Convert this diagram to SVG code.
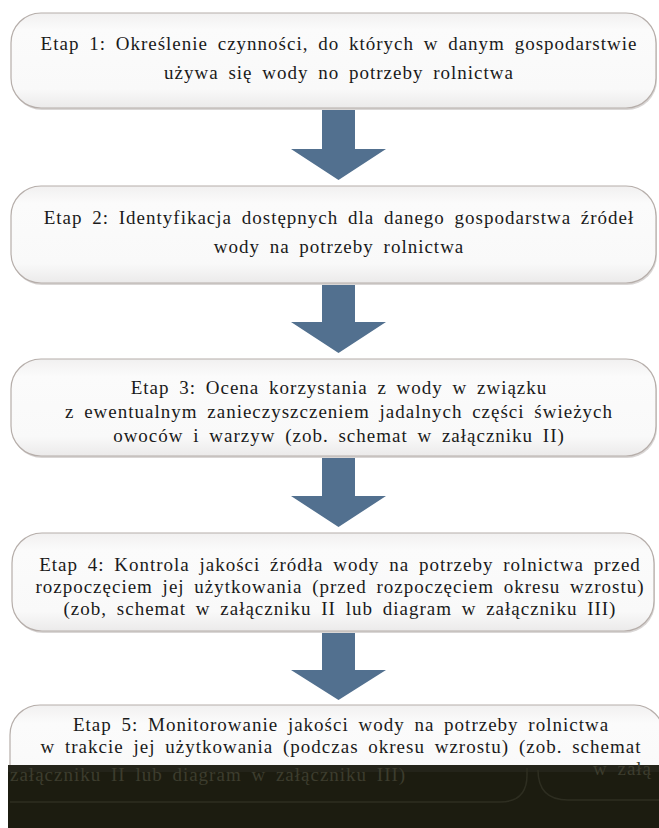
<svg xmlns="http://www.w3.org/2000/svg" width="659" height="828" viewBox="0 0 659 828">
<defs>
<linearGradient id="boxfill" x1="0" y1="0" x2="0" y2="1">
<stop offset="0" stop-color="#f1f0f0"/>
<stop offset="0.18" stop-color="#fbfbfb"/>
<stop offset="0.8" stop-color="#f9f9f9"/>
<stop offset="1" stop-color="#ebeaea"/>
</linearGradient>
</defs>
<style>
.box{fill:url(#boxfill);stroke:#b6aeaa;stroke-width:1.2}
.shadow{fill:#d9d6d5}
.arrow{fill:#52708f}
.t{font-family:"Liberation Serif","Times New Roman",serif;font-size:19px;fill:#1a1a1a;text-anchor:middle;letter-spacing:1px;word-spacing:4px}
.ghost{font-family:"Liberation Serif","Times New Roman",serif;font-size:19px;fill:#3d3d2e;letter-spacing:1px;word-spacing:4px}
.gline{fill:none;stroke:#2e2e21;stroke-width:1.5}
</style>
<rect width="659" height="828" fill="#ffffff"/>
<g id="connectors">
<path class="arrow" d="M322,108 H355 V149 H386 L338.5,180 L291,149 H322 Z"/>
<path class="arrow" d="M322,283 H355 V322 H386 L338.5,353 L291,322 H322 Z"/>
<path class="arrow" d="M322,456 H355 V496 H386 L338.5,527 L291,496 H322 Z"/>
<path class="arrow" d="M322,631 H355 V670 H386 L338.5,700 L291,670 H322 Z"/>
</g>
<g id="etap1">
<rect class="shadow" x="12" y="15" width="645" height="95" rx="30"/>
<rect class="box" x="11" y="13" width="645" height="95" rx="30"/>
<text class="t" x="339" y="50">Etap 1: Określenie czynności, do których w danym gospodarstwie</text>
<text class="t" x="339" y="79">używa się wody no potrzeby rolnictwa</text>
</g>
<g id="etap2">
<rect class="shadow" x="12" y="188" width="645" height="97" rx="30"/>
<rect class="box" x="11" y="186" width="645" height="97" rx="30"/>
<text class="t" x="339" y="224">Etap 2: Identyfikacja dostępnych dla danego gospodarstwa źródeł</text>
<text class="t" x="339" y="253">wody na potrzeby rolnictwa</text>
</g>
<g id="etap3">
<rect class="shadow" x="12" y="361" width="645" height="97" rx="30"/>
<rect class="box" x="11" y="359" width="645" height="97" rx="30"/>
<text class="t" x="339" y="394">Etap 3: Ocena korzystania z wody w związku</text>
<text class="t" x="339" y="418">z ewentualnym zanieczyszczeniem jadalnych części świeżych</text>
<text class="t" x="339" y="442">owoców i warzyw (zob. schemat w załączniku II)</text>
</g>
<g id="etap4">
<rect class="shadow" x="13" y="535" width="642" height="98" rx="30"/>
<rect class="box" x="12" y="533" width="642" height="98" rx="30"/>
<text class="t" x="340" y="571">Etap 4: Kontrola jakości źródła wody na potrzeby rolnictwa przed</text>
<text class="t" x="340" y="593">rozpoczęciem jej użytkowania (przed rozpoczęciem okresu wzrostu)</text>
<text class="t" x="340" y="615">(zob, schemat w załączniku II lub diagram w załączniku III)</text>
</g>
<g id="etap5">
<rect class="box" x="10" y="705" width="654" height="100" rx="30"/>
<text class="t" x="341" y="731">Etap 5: Monitorowanie jakości wody na potrzeby rolnictwa</text>
<text class="t" x="341" y="753">w trakcie jej użytkowania (podczas okresu wzrostu) (zob. schemat</text>
</g>
<g id="overlay">
<rect x="8" y="765" width="651" height="63" fill="#1c1c10"/>
<rect x="8" y="765" width="651" height="7" fill="#24241a"/>
<path class="gline" d="M10,802 H500 Q527,802 527,775 V768"/>
<path class="gline" d="M538,770 Q538,800 568,800 H659"/>
<text class="ghost" x="10" y="781">załączniku II lub diagram w załączniku III)</text>
<text class="ghost" x="593" y="775">w załą</text>
</g>
</svg>
